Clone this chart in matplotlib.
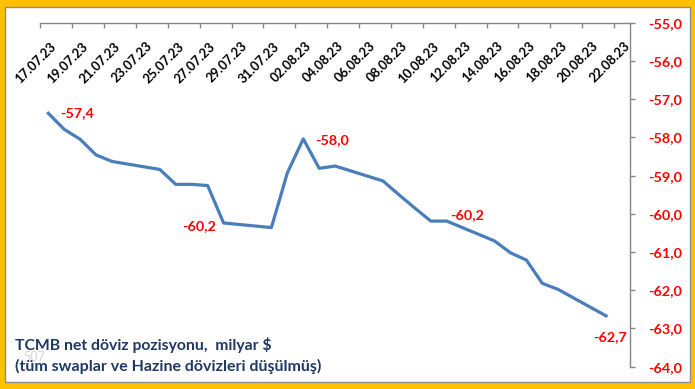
import matplotlib
matplotlib.use("Agg")
import matplotlib.pyplot as plt
import matplotlib.dates as mdates
import matplotlib.transforms as mtransforms
from matplotlib.patches import Rectangle
from datetime import datetime

# ---- data ----
dates = ["17.07.23", "18.07.23", "19.07.23", "20.07.23", "21.07.23",
         "24.07.23", "25.07.23", "26.07.23", "27.07.23", "28.07.23",
         "31.07.23", "01.08.23", "02.08.23", "03.08.23", "04.08.23",
         "07.08.23", "08.08.23", "09.08.23", "10.08.23", "11.08.23",
         "14.08.23", "15.08.23", "16.08.23", "17.08.23", "18.08.23",
         "21.08.23"]
values = [-57.37, -57.79, -58.05, -58.46, -58.63,
          -58.84, -59.23, -59.23, -59.26, -60.24,
          -60.36, -58.93, -58.04, -58.81, -58.75,
          -59.14, -59.50, -59.85, -60.19, -60.19,
          -60.71, -61.02, -61.21, -61.82, -61.98,
          -62.67]
label_dates = ["17.07.23", "28.07.23", "02.08.23", "11.08.23", "21.08.23"]
label_texts = ["-57,4", "-60,2", "-58,0", "-60,2", "-62,7"]
tick_labels = ["17.07.23", "19.07.23", "21.07.23", "23.07.23", "25.07.23",
               "27.07.23", "29.07.23", "31.07.23", "02.08.23", "04.08.23",
               "06.08.23", "08.08.23", "10.08.23", "12.08.23", "14.08.23",
               "16.08.23", "18.08.23", "20.08.23", "22.08.23"]
y_ticks = [-64, -63, -62, -61, -60, -59, -58, -57, -56, -55]
title_lines = ["TCMB net döviz pozisyonu,  milyar $",
               "(tüm swaplar ve Hazine dövizleri düşülmüş)"]

FONT = "Lato"
RED = "#FF0000"
GRAY = "#868686"
BLUE = "#4A7EBB"
NAVY = "#1F3864"

def d2n(s):
    return mdates.date2num(datetime.strptime(s, "%d.%m.%y"))

xs = [d2n(s) for s in dates]

W, H = 695, 389
fig = plt.figure(figsize=(W / 100, H / 100), dpi=100)
fig.patch.set_facecolor("#FFC000")
bg = Rectangle((5 / W, 1 - 381.7 / H), (690 - 5) / W, (381.7 - 7.3) / H,
               transform=fig.transFigure, facecolor="white",
               edgecolor="#8C8C8C", linewidth=1.0, zorder=-10)
fig.add_artist(bg)

L, R, T, B = 40.3, 630.0, 22.7, 366.7
ax = fig.add_axes([L / W, 1 - B / H, (R - L) / W, (B - T) / H])
ax.set_zorder(5)
ax.set_facecolor("none")

ax.plot(xs, values, color=BLUE, linewidth=2.3, solid_joinstyle="round", zorder=3)

x0 = d2n(tick_labels[0]) - 0.5
x1 = d2n(tick_labels[-1]) + 0.5
ax.set_xlim(x0, x1)
ax.set_ylim(-64, -55)

for s in ["left", "bottom"]:
    ax.spines[s].set_visible(False)
for s in ["top", "right"]:
    ax.spines[s].set_color(GRAY)
    ax.spines[s].set_linewidth(1.0)

# x ticks at top, between categories, pointing down
ax.xaxis.set_ticks_position("top")
ax.set_xticks([d2n(s) - 0.5 for s in tick_labels])
ax.tick_params(axis="x", direction="in", length=3.3, width=1.0, color=GRAY,
               labeltop=False, labelbottom=False)

# date labels below the top axis
trans = mtransforms.blended_transform_factory(ax.transData, ax.transAxes)
for s in tick_labels:
    t = ax.text(d2n(s), 1.0, s, rotation=45, rotation_mode="anchor",
                ha="right", va="center", fontsize=9.4, fontweight="bold",
                family=FONT, color="black")
    t.set_transform(trans + mtransforms.ScaledTranslation(6.0 / 100, -21.5 / 100,
                                                           fig.dpi_scale_trans))

# y axis on right
ax.yaxis.set_ticks_position("right")
ax.set_yticks(y_ticks)
ax.set_yticklabels([f"{v:.1f}".replace(".", ",") for v in y_ticks])
ax.tick_params(axis="y", direction="out", length=3.8, width=1.0, color=GRAY,
               pad=9.5, labelsize=10.4, labelcolor=RED)
for lab in ax.get_yticklabels():
    lab.set_fontweight("bold")
    lab.set_family(FONT)

# data labels
offsets = [(8.4, 0, "left", "center"), (-5.3, -2.2, "right", "center"),
           (8.4, -0.7, "left", "center"), (2.2, 4.3, "left", "center"),
           (2.7, -15.1, "center", "center")]
for d, txt, (dx, dy, ha, va) in zip(label_dates, label_texts, offsets):
    i = dates.index(d)
    ax.annotate(txt, (xs[i], values[i]), xytext=(dx, dy), textcoords="offset points",
                ha=ha, va=va, fontsize=10.4, fontweight="bold", family=FONT,
                color=RED, zorder=4)

# ghost text
fig.text(23 / W, 1 - 357 / H, "507", fontsize=9, color="#D5D5D5", family=FONT,
         ha="left", va="center", zorder=1)
# caption
fig.text(15 / W, 1 - 345 / H, title_lines[0], fontsize=11.3, fontweight="bold",
         family=FONT, color=NAVY, ha="left", va="center", zorder=2)
fig.text(15 / W, 1 - 366 / H, title_lines[1], fontsize=11.5, fontweight="bold",
         family=FONT, color=NAVY, ha="left", va="center", zorder=2)

fig.savefig("out.png", dpi=100, facecolor=fig.get_facecolor())
